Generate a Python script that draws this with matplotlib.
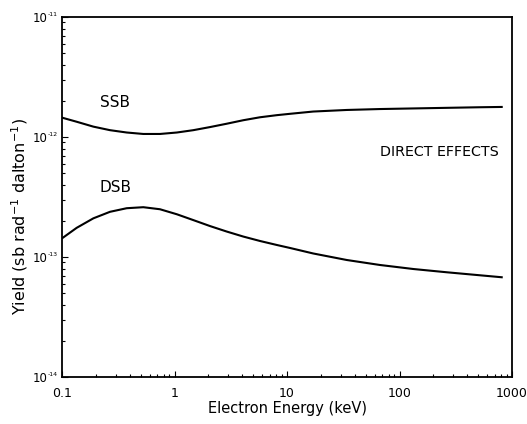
import numpy as np
import matplotlib
matplotlib.use("Agg")
import matplotlib.pyplot as plt
from matplotlib.ticker import LogLocator, FixedLocator, NullFormatter

# Data (keV, sb rad^-1 dalton^-1)
ssb_energy = [0.1, 0.135, 0.19, 0.267, 0.376, 0.528, 0.743, 1.05, 1.47, 2.07, 2.91,
              4.09, 5.75, 8.1, 10.6, 17.1, 34, 67, 133, 263, 520, 810]
ssb_yield = [1.45e-12, 1.34e-12, 1.22e-12, 1.14e-12, 1.09e-12, 1.06e-12, 1.06e-12,
             1.09e-12, 1.14e-12, 1.21e-12, 1.29e-12, 1.38e-12, 1.46e-12, 1.52e-12,
             1.56e-12, 1.63e-12, 1.68e-12, 1.71e-12, 1.73e-12, 1.75e-12, 1.77e-12, 1.78e-12]

dsb_energy = [0.1, 0.135, 0.19, 0.267, 0.376, 0.528, 0.743, 1.05, 1.47, 2.07, 2.91,
              4.09, 5.75, 8.1, 10.6, 17.1, 34, 67, 133, 263, 520, 810]
dsb_yield = [1.43e-13, 1.75e-13, 2.10e-13, 2.38e-13, 2.55e-13, 2.60e-13, 2.50e-13,
             2.27e-13, 2.03e-13, 1.81e-13, 1.63e-13, 1.48e-13, 1.36e-13, 1.26e-13,
             1.19e-13, 1.07e-13, 9.44e-14, 8.58e-14, 7.94e-14, 7.46e-14, 7.04e-14, 6.78e-14]

x_ticks = [0.1, 1, 10, 100, 1000]
x_ticklabels = ["0.1", "1", "10", "100", "1000"]
y_ticks = [1e-14, 1e-13, 1e-12, 1e-11]
y_tick_base = "10"
y_tick_exponents = ["-14", "-13", "-12", "-11"]

plt.rcParams['font.family'] = ['DejaVu Sans']
plt.rcParams['mathtext.fontset'] = 'dejavusans'

fig = plt.figure(figsize=(5.27, 4.24), dpi=100)
W, H = 527, 424
left, right, top, bottom = 62, 512, 17, 377
ax = fig.add_axes([left / W, 1 - bottom / H, (right - left) / W, (bottom - top) / H])

ax.plot(ssb_energy, ssb_yield, color="black", lw=1.5)
ax.plot(dsb_energy, dsb_yield, color="black", lw=1.5)

ax.set_xscale("log")
ax.set_yscale("log")
ax.set_xlim(0.1, 1000)
ax.set_ylim(1e-14, 1e-11)

ax.xaxis.set_major_locator(FixedLocator(x_ticks))
ax.set_xticklabels(x_ticklabels)
ax.yaxis.set_major_locator(FixedLocator(y_ticks))
ax.set_yticklabels([y_tick_base] * len(y_ticks))
ax.xaxis.set_minor_locator(LogLocator(base=10, subs=np.arange(2, 10)))
ax.yaxis.set_minor_locator(LogLocator(base=10, subs=np.arange(2, 10)))
ax.xaxis.set_minor_formatter(NullFormatter())
ax.yaxis.set_minor_formatter(NullFormatter())

ax.tick_params(which="both", direction="in", top=False, right=False, width=0.8)
ax.tick_params(which="major", length=4)
ax.tick_params(which="minor", length=2.5)
ax.tick_params(axis="x", which="major", labelsize=9, pad=7)
ax.tick_params(axis="y", which="major", labelsize=8.5, pad=10.5)
for s in ax.spines.values():
    s.set_linewidth(1.3)

# small superscript exponents for the y tick labels
for val, ex in zip(y_ticks, y_tick_exponents):
    ax.annotate(ex, xy=(0, val), xycoords=("axes fraction", "data"),
                xytext=(-14 * 0.72, 2.5 * 0.72), textcoords="offset points",
                ha="left", va="center", fontsize=4.5, annotation_clip=False)

ax.set_xlabel("Electron Energy (keV)", fontsize=10.5)
ax.xaxis.set_label_coords(0.5, -0.066)
ax.xaxis.label.set_va("top")
ax.set_ylabel("Yield (sb rad$^{-1}$ dalton$^{-1}$)", fontsize=11.5)
ax.yaxis.set_label_coords(-0.071, 0.447)

ax.text(115 / W, 1 - 102.5 / H, "SSB", transform=fig.transFigure, ha="center", va="center", fontsize=11)
ax.text(115 / W, 1 - 187 / H, "DSB", transform=fig.transFigure, ha="center", va="center", fontsize=11)
ax.text(439 / W, 1 - 151.7 / H, "DIRECT EFFECTS", transform=fig.transFigure, ha="center", va="center", fontsize=10.3)

fig.savefig("out.png", dpi=100)
